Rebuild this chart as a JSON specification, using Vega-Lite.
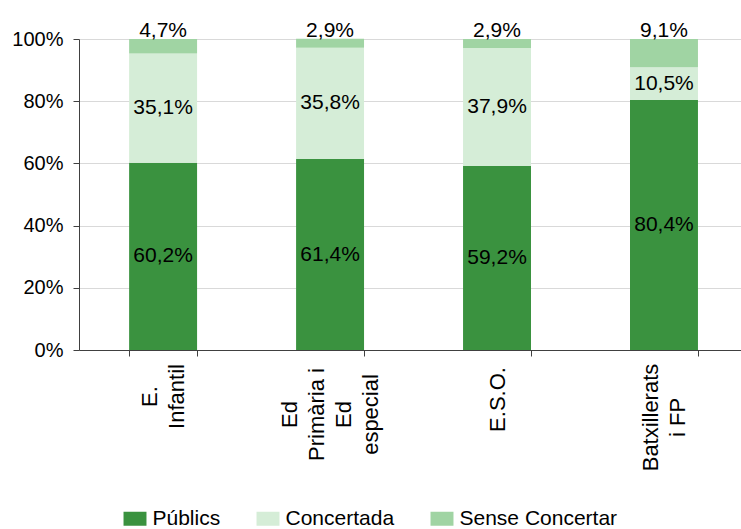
{
  "$schema": "https://vega.github.io/schema/vega-lite/v6.json",
  "width": 662,
  "height": 311,
  "autosize": {"type": "none"},
  "padding": {"left": 79, "top": 39, "right": 0, "bottom": 179},
  "config": {
    "font": "Liberation Sans",
    "view": {"stroke": null},
    "axis": {"labelColor": "#000000", "titleColor": "#000000"},
    "legend": {"labelColor": "#000000"}
  },
  "data": {
    "values": [
      {"nivell": "E. Infantil", "tipus": "Públics", "ordre": 1, "pct": 60.2},
      {"nivell": "E. Infantil", "tipus": "Concertada", "ordre": 2, "pct": 35.1},
      {"nivell": "E. Infantil", "tipus": "Sense Concertar", "ordre": 3, "pct": 4.7},
      {"nivell": "Ed Primària i Ed especial", "tipus": "Públics", "ordre": 1, "pct": 61.4},
      {"nivell": "Ed Primària i Ed especial", "tipus": "Concertada", "ordre": 2, "pct": 35.8},
      {"nivell": "Ed Primària i Ed especial", "tipus": "Sense Concertar", "ordre": 3, "pct": 2.9},
      {"nivell": "E.S.O.", "tipus": "Públics", "ordre": 1, "pct": 59.2},
      {"nivell": "E.S.O.", "tipus": "Concertada", "ordre": 2, "pct": 37.9},
      {"nivell": "E.S.O.", "tipus": "Sense Concertar", "ordre": 3, "pct": 2.9},
      {"nivell": "Batxillerats i FP", "tipus": "Públics", "ordre": 1, "pct": 80.4},
      {"nivell": "Batxillerats i FP", "tipus": "Concertada", "ordre": 2, "pct": 10.5},
      {"nivell": "Batxillerats i FP", "tipus": "Sense Concertar", "ordre": 3, "pct": 9.1}
    ]
  },
  "encoding": {
    "x": {
      "field": "nivell",
      "type": "nominal",
      "sort": ["E. Infantil", "Ed Primària i Ed especial", "E.S.O.", "Batxillerats i FP"],
      "scale": {"paddingInner": 0.593, "paddingOuter": 0.279, "align": 0.538},
      "axis": {
        "title": null,
        "grid": false,
        "tickBand": "extent",
        "labelAngle": -90,
        "labelAlign": "center",
        "labelBaseline": "middle",
        "labelPadding": {
          "condition": [
            {"test": "datum.value == 'E. Infantil'", "value": 40},
            {"test": "datum.value == 'E.S.O.'", "value": 43},
            {"test": "datum.value == 'Batxillerats i FP'", "value": 61}
          ],
          "value": 58
        },
        "labelOffset": {
          "condition": [
            {"test": "datum.value == 'Ed Primària i Ed especial'", "value": -40.5},
            {"test": "datum.value == 'E.S.O.'", "value": 0}
          ],
          "value": -13.5
        },
        "labelFontSize": 22,
        "labelLineHeight": 27,
        "labelExpr": "datum.label == 'E. Infantil' ? ['E.', 'Infantil'] : datum.label == 'Ed Primària i Ed especial' ? ['Ed', 'Primària i', 'Ed', 'especial'] : datum.label == 'Batxillerats i FP' ? ['Batxillerats', 'i FP'] : datum.label",
        "domainColor": "#404040",
        "tickColor": "#404040",
        "tickSize": 6
      }
    }
  },
  "layer": [
    {
      "mark": {"type": "bar"},
      "encoding": {
        "y": {
          "field": "pct",
          "type": "quantitative",
          "stack": "zero",
          "scale": {"domain": [0, 100], "nice": false},
          "axis": {
            "title": null,
            "values": [0, 20, 40, 60, 80, 100],
            "labelExpr": "datum.value + '%'",
            "grid": true,
            "gridColor": "#D9D9D9",
            "domainColor": "#404040",
            "tickColor": "#404040",
            "tickSize": 6,
            "labelPadding": 10,
            "labelFontSize": 20
          }
        },
        "order": {"field": "ordre", "type": "quantitative", "sort": "ascending"},
        "color": {
          "field": "tipus",
          "type": "nominal",
          "scale": {
            "domain": ["Públics", "Concertada", "Sense Concertar"],
            "range": ["#3A923F", "#D5EDD7", "#A0D4A3"]
          },
          "legend": {
            "title": null,
            "orient": "none",
            "legendX": 45.5,
            "legendY": 469,
            "direction": "horizontal",
            "symbolType": "M-1.64,-1H1.64V1H-1.64Z",
            "symbolSize": 196,
            "symbolStrokeWidth": 0,
            "symbolOpacity": 1,
            "labelFontSize": 21,
            "labelOffset": 7,
            "columnPadding": 36,
            "padding": 0
          }
        }
      }
    },
    {
      "transform": [
        {"stack": "pct", "groupby": ["nivell"], "sort": [{"field": "ordre"}], "as": ["y0", "y1"]},
        {"filter": "datum.tipus !== 'Sense Concertar'"},
        {"calculate": "(datum.y0 + datum.y1) / 2", "as": "ymid"},
        {"calculate": "replace(format(datum.pct, '.1f'), '.', ',') + '%'", "as": "etiqueta"}
      ],
      "mark": {"type": "text", "fontSize": 21, "baseline": "middle", "color": "#000000"},
      "encoding": {
        "y": {"field": "ymid", "type": "quantitative", "stack": null},
        "text": {"field": "etiqueta", "type": "nominal"}
      }
    },
    {
      "transform": [
        {"filter": "datum.tipus === 'Sense Concertar'"},
        {"calculate": "replace(format(datum.pct, '.1f'), '.', ',') + '%'", "as": "etiqueta"}
      ],
      "mark": {"type": "text", "fontSize": 21, "baseline": "alphabetic", "dy": -2, "color": "#000000"},
      "encoding": {
        "y": {"datum": 100},
        "text": {"field": "etiqueta", "type": "nominal"}
      }
    }
  ]
}
